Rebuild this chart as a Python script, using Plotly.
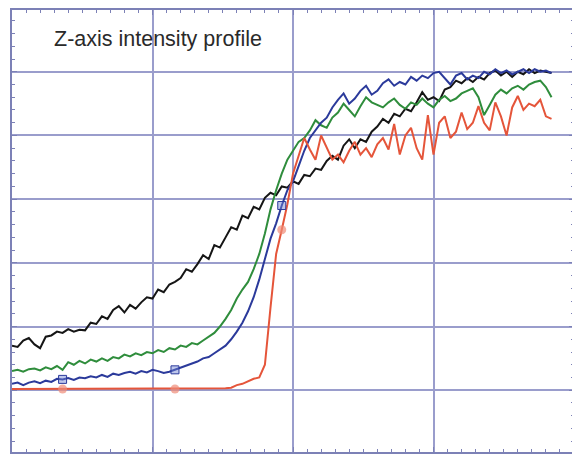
import plotly.graph_objects as go

# Sampling positions along z (arbitrary units, gridlines every 100)
z_pos = list(range(0, 388, 4))

black_vals = [170, 168, 178, 182, 172, 166, 184, 186, 192, 190, 196, 192, 195, 194, 206, 204,
              216, 212, 226, 232, 222, 234, 228, 238, 246, 244, 258, 254, 266, 270, 276, 290,
              286, 298, 312, 306, 328, 324, 340, 356, 352, 374, 370, 388, 384, 402, 410, 406,
              420, 418, 428, 424, 438, 436, 448, 446, 460, 468, 462, 484, 494, 480, 494, 490,
              506, 514, 526, 520, 534, 530, 542, 538, 552, 568, 556, 560, 554, 572, 576, 586,
              582, 590, 584, 592, 588, 598, 602, 594, 600, 592, 600, 596, 604, 598, 602, 600, 598]

blue_vals = [110, 112, 108, 112, 114, 111, 115, 113, 118, 117, 119, 116, 120, 119, 122, 120,
             124, 121, 126, 124, 127, 129, 126, 130, 128, 132, 130, 127, 129, 132, 136, 138,
             142, 145, 150, 152, 158, 164, 170, 180, 192, 206, 224, 246, 274, 306, 338, 362,
             390, 414, 428, 452, 476, 496, 508, 520, 528, 544, 556, 566, 550, 558, 570, 578,
             564, 570, 582, 588, 578, 584, 580, 592, 586, 594, 590, 598, 600, 590, 580, 594,
             598, 588, 594, 590, 600, 596, 604, 598, 602, 596, 600, 604, 598, 604, 600, 602, 598]

green_vals = [130, 132, 129, 133, 134, 131, 136, 133, 138, 132, 144, 140, 146, 142, 148, 145,
              150, 146, 152, 150, 156, 153, 158, 155, 160, 158, 163, 160, 166, 164, 170, 168,
              174, 172, 178, 184, 190, 200, 212, 226, 244, 258, 270, 290, 314, 346, 384, 414,
              440, 462, 476, 490, 496, 508, 524, 516, 512, 528, 536, 550, 540, 530, 546, 560,
              552, 548, 544, 552, 558, 548, 542, 552, 548, 558, 550, 544, 556, 562, 554, 558,
              566, 570, 574, 560, 532, 548, 564, 572, 566, 574, 578, 572, 580, 584, 586, 576, 560]

red_vals = [102, 102, 102, 102, 102, 102, 102, 102, 102, 102, 102, 102, 102, 102, 102, 102,
            102, 102, 102, 102, 102, 102, 102, 102, 102, 102, 102, 102, 102, 102, 102, 102,
            102, 102, 102, 102, 102, 102, 103, 104, 108, 110, 114, 118, 120, 140, 230, 314,
            352, 392, 440, 470, 496, 478, 462, 500, 480, 462, 470, 458, 476, 490, 470, 480,
            466, 486, 496, 478, 518, 470, 500, 512, 480, 462, 532, 470, 520, 530, 496, 506,
            536, 510, 520, 546, 520, 508, 552, 530, 500, 544, 562, 540, 550, 546, 556, 530, 526]

marker_idx = [9, 29, 48]

title_text = "Z-axis intensity profile"

grid_col = "#9a9dcc"
axis_col = "#7c81b6"

fig = go.Figure()

series = [
    ("black", black_vals, "#151515"),
    ("green", green_vals, "#2f8d3c"),
    ("blue", blue_vals, "#2b3a9b"),
    ("red", red_vals, "#e5553a"),
]
for name, vals, col in series:
    fig.add_trace(go.Scatter(x=z_pos, y=vals, mode="lines", name=name,
                             line=dict(color=col, width=2), showlegend=False))

fig.add_trace(go.Scatter(x=[z_pos[i] for i in marker_idx], y=[blue_vals[i] for i in marker_idx],
                         mode="markers", showlegend=False,
                         marker=dict(symbol="square", size=8, color="rgba(110,130,210,0.45)",
                                     line=dict(color="#2b3a9b", width=1))))
fig.add_trace(go.Scatter(x=[z_pos[i] for i in marker_idx], y=[red_vals[i] for i in marker_idx],
                         mode="markers", showlegend=False,
                         marker=dict(symbol="circle", size=9, color="rgba(240,140,120,0.7)",
                                     line=dict(width=0))))

fig.add_annotation(text=title_text, xref="paper", yref="paper", x=0.072, y=0.935,
                   xanchor="left", yanchor="middle", showarrow=False,
                   font=dict(family="Liberation Sans, Arial, sans-serif", size=21.5, color="#2a2a2a"))

axis_common = dict(showgrid=True, gridcolor=grid_col, gridwidth=1.5,
                   showline=True, linecolor=axis_col, linewidth=1.5, mirror="ticks",
                   ticks="inside", ticklen=5, tickcolor=axis_col, tickwidth=1.2,
                   showticklabels=False, zeroline=False)

fig.update_xaxes(range=[0, 400], dtick=100, tick0=0,
                 minor=dict(dtick=10, ticks="inside", ticklen=3, tickcolor=axis_col, showgrid=False),
                 **axis_common)
fig.update_yaxes(range=[3, 697], dtick=100, tick0=0,
                 minor=dict(dtick=20, ticks="inside", ticklen=3, tickcolor=axis_col, showgrid=False),
                 **axis_common)

fig.update_layout(width=580, height=454, margin=dict(l=4, r=14, t=0, b=10),
                  plot_bgcolor="white", paper_bgcolor="white")

fig.write_html("out.html")
